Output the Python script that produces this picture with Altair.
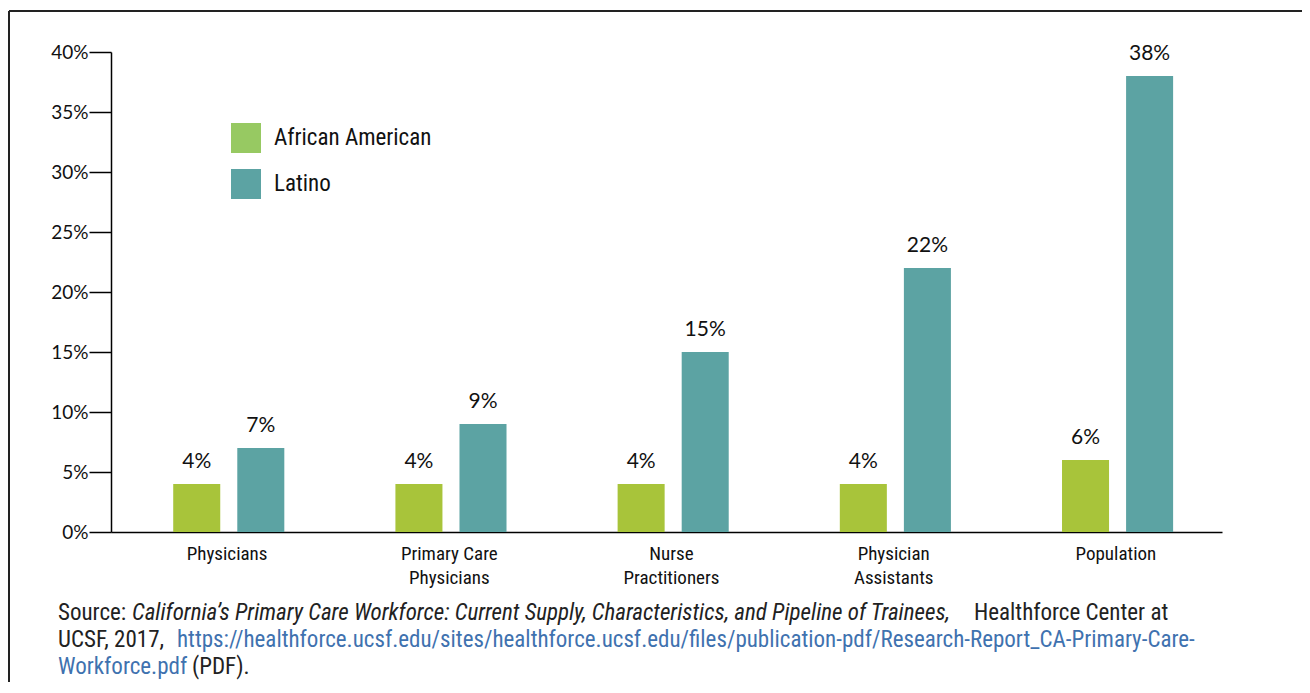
import altair as alt
import pandas as pd

categories = ["Physicians", "Primary Care|Physicians", "Nurse|Practitioners", "Physician|Assistants", "Population"]
groups = ["African American", "Latino"]
african_american = [4, 4, 4, 4, 6]
latino = [7, 9, 15, 22, 38]
y_ticks = [0, 5, 10, 15, 20, 25, 30, 35, 40]

bar_colors = ["#A8C43A", "#5CA3A3"]
legend_colors = ["#97C962", "#5CA3A3"]

rows = []
for c, a, l in zip(categories, african_american, latino):
    rows.append({"category": c, "group": groups[0], "value": a})
    rows.append({"category": c, "group": groups[1], "value": l})
df = pd.DataFrame(rows)

COND = "'Roboto Condensed', 'Liberation Sans Narrow', 'DejaVu Sans Condensed', sans-serif"
NUM = "Lato, 'Open Sans', sans-serif"

x_enc = alt.X("category:N", sort=categories,
              scale=alt.Scale(paddingInner=0, paddingOuter=0),
              axis=alt.Axis(title=None, labelAngle=0, ticks=False, domainColor="#000",
                            domainWidth=1.5, labelFontSize=19, labelFont=COND,
                            labelColor="#111", labelPadding=12, labelLineHeight=24,
                            labelOffset=5,
                            labelExpr="split(datum.label, '|')"))
xoff = alt.XOffset("group:N", sort=groups,
                   scale=alt.Scale(paddingInner=0.266, paddingOuter=0.867, align=0.56))
y_enc = alt.Y("value:Q", scale=alt.Scale(domain=[0, 40], nice=False),
              axis=alt.Axis(title=None, values=y_ticks, grid=False, tickSize=22,
                            tickColor="#000", tickWidth=1.5, domainColor="#000",
                            domainWidth=1.5, labelFontSize=19, labelFont=NUM,
                            labelColor="#111", labelPadding=1,
                            labelExpr="datum.value + '%'"))

bars = alt.Chart(df).mark_bar().encode(
    x=x_enc, xOffset=xoff, y=y_enc,
    color=alt.Color("group:N", sort=groups,
                    scale=alt.Scale(domain=groups, range=bar_colors), legend=None),
)

labels = alt.Chart(df).transform_calculate(lbl="datum.value + '%'").mark_text(
    baseline="bottom", dy=-12, fontSize=21, font=NUM, color="#111"
).encode(x=alt.X("category:N", sort=categories), xOffset=alt.XOffset("group:N", sort=groups),
         y="value:Q", text="lbl:N")

legend_layer = alt.Chart(df).mark_square(opacity=0, size=0).encode(
    x=alt.X("category:N", sort=categories), xOffset=alt.XOffset("group:N", sort=groups),
    y="value:Q",
    fill=alt.Fill("group:N", sort=groups,
                  scale=alt.Scale(domain=groups, range=legend_colors),
                  legend=alt.Legend(title=None, orient="none", legendX=120, legendY=71,
                                    symbolType="square", symbolSize=900, symbolOpacity=1,
                                    symbolStrokeWidth=0, labelFontSize=23, labelFont=COND,
                                    labelColor="#111", labelOffset=13, rowPadding=16,
                                    padding=0)),
)

one = pd.DataFrame([{"k": 1}])

def seg(text, x, y, color="#222", italic=False):
    return alt.Chart(one).mark_text(
        align="left", baseline="middle", fontSize=23, font=COND, color=color,
        fontStyle="italic" if italic else "normal"
    ).encode(x=alt.value(x), y=alt.value(y), text=alt.value(text))

LINK = "#3F72AF"
src = [
    seg("Source:", -53, 561),
    seg("California\u2019s Primary Care Workforce: Current Supply, Characteristics, and Pipeline of Trainees,", 21, 561, italic=True),
    seg("Healthforce Center at", 863, 561),
    seg("UCSF, 2017,", -53, 588),
    seg("https://healthforce.ucsf.edu/sites/healthforce.ucsf.edu/files/publication-pdf/Research-Report_CA-Primary-Care-", 66, 588, color=LINK),
    seg("Workforce.pdf", -53, 615, color=LINK),
    seg("(PDF).", 81, 615),
]

frame_top = alt.Chart(one).mark_rule(color="#222", strokeWidth=2).encode(
    x=alt.value(-102), x2=alt.value(1300), y=alt.value(-41))
frame_left = alt.Chart(one).mark_rule(color="#222", strokeWidth=2).encode(
    x=alt.value(-102), y=alt.value(-41), y2=alt.value(700))

chart = alt.layer(bars, labels, legend_layer, *src, frame_top, frame_left).resolve_scale(
    color="independent", fill="independent"
).properties(
    width=1111, height=480,
    autosize=alt.AutoSizeParams(type="none"),
    padding={"left": 103, "top": 44, "right": 80, "bottom": 150},
).configure_view(stroke=None)

chart.save("out.html", embed_options={"renderer": "svg", "actions": False})
